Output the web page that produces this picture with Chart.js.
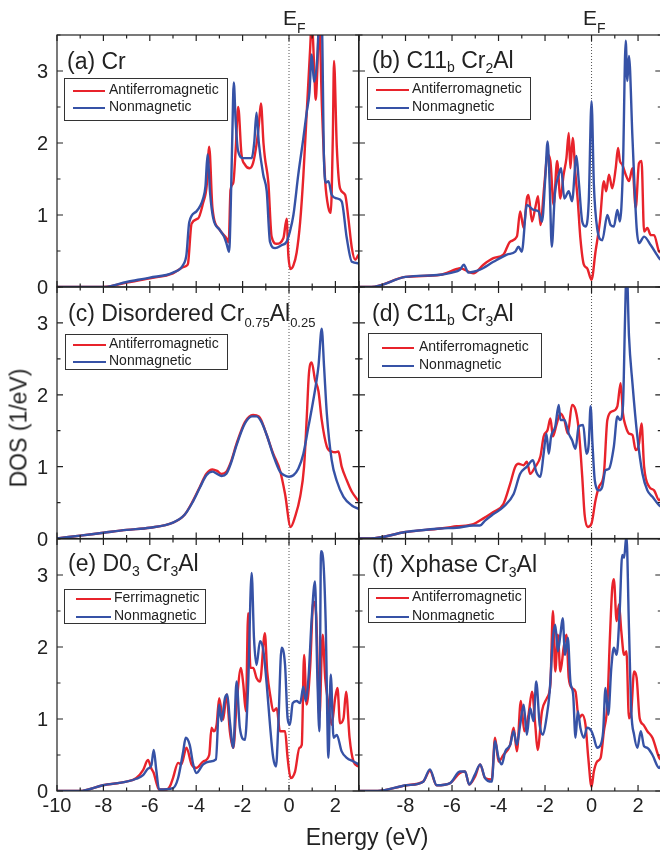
<!DOCTYPE html>
<html>
<head>
<meta charset="utf-8">
<script src="https://cdn.jsdelivr.net/npm/chart.js@4.4.0/dist/chart.umd.min.js"></script>
<style>
html, body { margin: 0; padding: 0; background: #fff; overflow: hidden; }
#wrap { position: relative; width: 660px; height: 851px; overflow: hidden;
  font-family: "Liberation Sans", Arial, sans-serif; color: #222; }
#wrap canvas { position: absolute; left: 0; top: 0; }
.txt { position: absolute; white-space: nowrap; line-height: 1; }
.sb { position: relative; }
.legend { position: absolute; box-sizing: border-box; border: 1px solid #333; background: #fff; }
.legend .ln { position: absolute; height: 2.6px; }
.legend .tx { position: absolute; font-size: 14px; line-height: 14px; white-space: nowrap; }
</style>
</head>
<body>
<div id="wrap"></div>
<script>
// ticks
const xTickValues = [-10, -9, -8, -7, -6, -5, -4, -3, -2, -1, 0, 1, 2, 3];
const xTickLabels = [-10, -8, -6, -4, -2, 0, 2];
const yTickValues = [0, 0.5, 1, 1.5, 2, 2.5, 3, 3.5];
const yTickLabels = [0, 1, 2, 3];

// (a) Cr
const crAfmE = [-10, -8, -7, -6, -5, -4.6, -4.4, -4.35, -4.2, -3.92, -3.7, -3.55, -3.44, -3.3, -3.0, -2.7, -2.6, -2.52, -2.4, -2.3, -2.19, -2.05, -1.9, -1.7, -1.55, -1.4, -1.3, -1.21, -1.1, -1.04, -0.89, -0.75, -0.53, -0.24, -0.1, -0.03, 0.07, 0.19, 0.33, 0.48, 0.62, 0.76, 0.91, 0.98, 1.08, 1.15, 1.22, 1.3, 1.42, 1.56, 1.7, 1.8, 1.89, 1.94, 2.06, 2.2, 2.42, 2.56, 2.71, 2.85, 3.0];
const crAfmDos = [0, 0, 0.06, 0.12, 0.19, 0.27, 0.3, 0.33, 0.88, 0.95, 1.17, 1.4, 1.95, 1.1, 0.8, 0.68, 0.62, 1.35, 1.45, 1.9, 2.5, 1.85, 1.7, 1.65, 1.72, 1.98, 2.25, 2.55, 2.0, 1.8, 1.45, 0.7, 0.6, 0.68, 0.95, 0.45, 0.25, 0.3, 0.48, 0.9, 1.55, 2.4, 3.3, 3.7, 3.1, 2.6, 3.0, 3.7, 2.5, 1.47, 1.1, 1.03, 2.1, 3.14, 1.95, 1.37, 1.28, 0.95, 0.54, 0.38, 0.45];
const crNmE = [-10, -8, -7, -6, -5, -4.56, -4.42, -4.3, -3.99, -3.7, -3.6, -3.51, -3.4, -3.27, -2.98, -2.8, -2.69, -2.58, -2.52, -2.45, -2.38, -2.3, -2.2, -1.97, -1.61, -1.5, -1.4, -1.3, -1.11, -0.96, -0.82, -0.6, -0.32, -0.1, 0.04, 0.19, 0.4, 0.62, 0.76, 0.88, 0.98, 1.08, 1.2, 1.31, 1.41, 1.51, 1.6, 1.7, 1.84, 2.06, 2.27, 2.49, 2.71, 3.0];
const crNmDos = [0, 0, 0.07, 0.13, 0.2, 0.31, 0.45, 0.9, 1.05, 1.23, 1.4, 1.84, 1.3, 0.96, 0.79, 0.7, 0.6, 0.49, 1.0, 2.0, 2.84, 2.3, 1.9, 1.79, 1.79, 2.0, 2.42, 2.0, 1.56, 1.33, 0.63, 0.54, 0.58, 0.63, 0.77, 1.0, 1.56, 2.07, 2.42, 2.7, 3.23, 2.85, 3.09, 3.7, 3.7, 1.74, 1.45, 1.47, 1.28, 1.23, 1.19, 0.68, 0.35, 0.33];

// (b) C11b Cr2Al
const c2AfmE = [-10, -9.47, -8.0, -6.5, -5.8, -5.66, -5.08, -4.65, -4.22, -3.79, -3.5, -3.21, -3.07, -2.92, -2.78, -2.71, -2.56, -2.42, -2.3, -2.2, -2.03, -1.89, -1.77, -1.63, -1.48, -1.34, -1.2, -1.08, -0.98, -0.91, -0.81, -0.69, -0.59, -0.48, -0.33, -0.19, 0, 0.17, 0.36, 0.53, 0.63, 0.75, 0.89, 1.04, 1.14, 1.22, 1.32, 1.47, 1.61, 1.76, 1.9, 2.04, 2.15, 2.26, 2.4, 2.55, 2.69, 2.91, 3.0];
const c2AfmDos = [0, 0, 0.14, 0.17, 0.25, 0.26, 0.19, 0.31, 0.4, 0.45, 0.63, 0.7, 1.05, 0.82, 1.23, 1.28, 0.91, 1.1, 1.26, 0.86, 1.42, 1.84, 1.75, 1.14, 1.75, 1.23, 1.56, 1.79, 2.14, 1.65, 2.07, 1.56, 1.19, 0.68, 0.31, 0.26, 0.1, 0.49, 0.91, 1.47, 1.33, 1.56, 1.37, 1.65, 1.93, 1.75, 1.7, 1.56, 1.47, 1.65, 1.1, 1.72, 1.75, 0.77, 0.82, 0.72, 0.72, 0.49, 0.48];
const c2NmE = [-10, -9.47, -8.0, -6.5, -6.0, -5.66, -5.49, -5.3, -4.8, -4.22, -3.64, -3.28, -3.14, -3.0, -2.78, -2.49, -2.28, -2.13, -1.99, -1.89, -1.8, -1.71, -1.58, -1.41, -1.31, -1.17, -0.98, -0.84, -0.65, -0.55, -0.4, -0.26, -0.12, 0, 0.1, 0.24, 0.46, 0.68, 0.82, 0.96, 1.11, 1.22, 1.35, 1.47, 1.54, 1.61, 1.76, 1.94, 2.04, 2.26, 2.55, 2.91, 3.0];
const c2NmDos = [0, 0, 0.14, 0.17, 0.2, 0.24, 0.31, 0.2, 0.24, 0.35, 0.45, 0.49, 0.56, 0.49, 1.14, 1.07, 1.05, 0.91, 1.51, 2.02, 1.42, 0.56, 1.28, 1.56, 1.65, 1.23, 1.33, 1.19, 1.82, 1.47, 0.91, 0.84, 1.19, 2.58, 1.42, 0.82, 0.65, 1.0, 0.86, 0.84, 1.07, 0.91, 1.65, 3.42, 2.86, 3.21, 2.07, 0.82, 0.61, 0.7, 0.58, 0.4, 0.37];

// (c) disordered Cr0.75Al0.25
const disAfmE = [-10, -9, -8, -7, -6, -5, -4.5, -4.13, -3.84, -3.56, -3.3, -3.1, -2.91, -2.7, -2.5, -2.26, -1.9, -1.55, -1.3, -1.2, -0.96, -0.68, -0.39, -0.17, 0.07, 0.26, 0.48, 0.65, 0.76, 0.86, 0.98, 1.12, 1.27, 1.41, 1.63, 1.84, 2.0, 2.13, 2.27, 2.49, 2.71, 3.0];
const disAfmDos = [0, 0.04, 0.08, 0.12, 0.15, 0.22, 0.33, 0.53, 0.72, 0.9, 0.96, 0.94, 0.9, 0.93, 1.07, 1.32, 1.62, 1.72, 1.7, 1.65, 1.44, 1.18, 0.95, 0.62, 0.16, 0.3, 0.58, 1.0, 1.65, 2.3, 2.45, 2.21, 2.05, 1.65, 1.28, 1.21, 1.2, 1.21, 1.0, 0.81, 0.65, 0.52];
const disNmE = [-10, -9, -8, -7, -6, -5, -4.5, -4.13, -3.84, -3.56, -3.3, -3.1, -2.91, -2.7, -2.5, -2.26, -1.9, -1.6, -1.4, -1.2, -0.96, -0.68, -0.39, -0.2, 0, 0.19, 0.4, 0.62, 0.84, 1.05, 1.27, 1.41, 1.51, 1.63, 1.84, 2.06, 2.35, 2.71, 3.0];
const disNmDos = [0, 0.04, 0.08, 0.12, 0.15, 0.22, 0.33, 0.52, 0.71, 0.88, 0.93, 0.9, 0.87, 0.9, 1.05, 1.3, 1.6, 1.7, 1.7, 1.63, 1.44, 1.16, 0.93, 0.88, 0.86, 0.88, 0.97, 1.18, 1.56, 1.93, 2.4, 2.92, 2.4, 1.74, 1.09, 0.8, 0.58, 0.46, 0.41];

// (d) C11b Cr3Al
const c3AfmE = [-10, -9.5, -8, -6.5, -5.8, -5.08, -4.65, -4.22, -3.79, -3.5, -3.28, -3.14, -2.92, -2.78, -2.64, -2.42, -2.2, -2.06, -1.89, -1.77, -1.66, -1.51, -1.34, -1.17, -1.02, -0.84, -0.69, -0.55, -0.4, -0.3, -0.16, 0, 0.17, 0.32, 0.53, 0.68, 0.89, 1.11, 1.25, 1.35, 1.47, 1.61, 1.76, 1.9, 2.04, 2.15, 2.26, 2.48, 2.69, 2.91, 3.0];
const c3AfmDos = [0, 0, 0.09, 0.14, 0.17, 0.2, 0.28, 0.37, 0.48, 0.76, 1.0, 1.04, 1.02, 1.07, 0.9, 1.0, 1.14, 1.42, 1.51, 1.67, 1.42, 1.58, 1.74, 1.65, 1.46, 1.86, 1.79, 1.51, 0.86, 0.34, 0.16, 0.21, 0.53, 0.72, 0.9, 1.65, 1.77, 1.84, 2.16, 1.74, 1.56, 1.46, 1.44, 1.23, 1.32, 1.6, 1.0, 0.72, 0.67, 0.53, 0.57];
const c3NmE = [-10, -9.5, -8, -6.5, -5.8, -5.08, -4.8, -4.58, -4.22, -3.79, -3.35, -3.07, -2.78, -2.52, -2.38, -2.2, -2.06, -1.94, -1.84, -1.74, -1.56, -1.41, -1.34, -1.17, -0.98, -0.84, -0.69, -0.55, -0.36, -0.22, -0.12, -0.04, 0.04, 0.14, 0.32, 0.46, 0.6, 0.75, 0.96, 1.11, 1.22, 1.35, 1.44, 1.51, 1.61, 1.76, 1.97, 2.19, 2.4, 2.62, 2.91, 3.0];
const c3NmDos = [0, 0, 0.09, 0.14, 0.15, 0.18, 0.18, 0.25, 0.34, 0.44, 0.62, 0.9, 1.0, 1.09, 0.93, 0.86, 1.18, 1.46, 1.18, 1.42, 1.56, 1.86, 1.65, 1.65, 1.46, 1.37, 1.25, 1.56, 1.58, 1.18, 1.32, 1.84, 1.32, 0.81, 0.67, 0.72, 0.95, 0.97, 1.28, 1.7, 1.65, 1.84, 3.05, 3.8, 2.82, 2.16, 1.42, 0.9, 0.67, 0.58, 0.46, 0.44];

// (e) D0_3 Cr3Al
const d03FimE = [-10, -9.03, -8.02, -7.01, -6.58, -6.29, -6.08, -5.93, -5.83, -5.72, -5.6, -5.28, -5.14, -5.0, -4.78, -4.64, -4.42, -4.2, -3.99, -3.7, -3.44, -3.34, -3.24, -3.12, -3.01, -2.84, -2.69, -2.55, -2.4, -2.26, -2.07, -1.97, -1.86, -1.76, -1.66, -1.54, -1.4, -1.25, -1.04, -0.94, -0.79, -0.68, -0.53, -0.39, -0.17, -0.06, 0.07, 0.26, 0.45, 0.55, 0.65, 0.76, 0.91, 1.05, 1.17, 1.31, 1.45, 1.56, 1.7, 1.84, 1.99, 2.09, 2.2, 2.35, 2.46, 2.61, 2.78, 3.0];
const d03FimDos = [0, 0, 0.08, 0.13, 0.18, 0.29, 0.43, 0.31, 0.25, 0.12, 0.02, 0.02, 0.06, 0.18, 0.39, 0.37, 0.6, 0.37, 0.32, 0.41, 0.5, 0.88, 0.83, 0.92, 1.29, 0.99, 1.34, 0.83, 0.6, 1.2, 1.71, 1.48, 1.11, 2.47, 1.71, 1.71, 1.57, 1.52, 2.19, 1.66, 1.29, 1.11, 1.15, 0.83, 0.83, 0.46, 0.18, 0.27, 0.6, 0.64, 1.89, 1.2, 1.71, 2.63, 2.45, 1.01, 2.17, 1.57, 1.2, 0.92, 1.29, 1.43, 0.94, 1.01, 1.38, 0.74, 0.41, 0.34];
const d03NmE = [-10, -9.03, -8.02, -7.01, -6.58, -6.29, -6.08, -5.93, -5.83, -5.72, -5.6, -5.0, -4.78, -4.56, -4.45, -4.28, -4.13, -3.99, -3.7, -3.41, -3.15, -3.01, -2.91, -2.76, -2.66, -2.55, -2.4, -2.26, -2.12, -1.9, -1.76, -1.61, -1.51, -1.4, -1.25, -1.11, -0.96, -0.82, -0.68, -0.56, -0.46, -0.32, -0.17, -0.06, 0.04, 0.16, 0.33, 0.48, 0.62, 0.72, 0.84, 0.98, 1.12, 1.22, 1.31, 1.38, 1.48, 1.58, 1.7, 1.8, 1.92, 2.06, 2.27, 2.49, 2.78, 3.0];
const d03NmDos = [0, 0, 0.08, 0.13, 0.17, 0.22, 0.31, 0.36, 0.57, 0.29, 0.02, 0.04, 0.18, 0.55, 0.74, 0.64, 0.37, 0.25, 0.37, 0.41, 0.44, 1.2, 0.97, 1.29, 1.34, 0.97, 0.6, 1.52, 0.88, 0.71, 1.48, 3.03, 2.13, 1.75, 2.08, 1.96, 1.48, 0.92, 0.46, 0.34, 0.92, 1.99, 1.75, 1.01, 0.92, 1.22, 1.25, 1.22, 1.45, 1.25, 1.57, 2.4, 2.91, 1.62, 0.83, 3.33, 3.19, 2.36, 0.46, 1.62, 0.74, 0.78, 0.55, 0.46, 0.41, 0.37];

// (f) X phase Cr3Al
const xAfmE = [-10, -9.2, -7.96, -7.24, -6.95, -6.66, -6.08, -5.66, -5.44, -5.26, -5.01, -4.79, -4.58, -4.29, -4.15, -4.0, -3.79, -3.5, -3.35, -3.21, -3.04, -2.89, -2.71, -2.56, -2.42, -2.32, -2.13, -1.92, -1.77, -1.66, -1.56, -1.45, -1.34, -1.2, -1.08, -0.98, -0.84, -0.69, -0.55, -0.4, -0.26, -0.14, 0, 0.1, 0.24, 0.39, 0.53, 0.68, 0.79, 0.89, 0.96, 1.08, 1.18, 1.28, 1.4, 1.5, 1.61, 1.71, 1.83, 1.94, 2.07, 2.23, 2.4, 2.62, 2.91, 3.0];
const xAfmDos = [0, 0, 0.08, 0.13, 0.28, 0.08, 0.11, 0.25, 0.27, 0.09, 0.2, 0.37, 0.18, 0.16, 0.74, 0.41, 0.5, 0.64, 0.88, 0.55, 1.25, 0.83, 1.06, 1.38, 0.92, 0.57, 1.11, 1.29, 1.48, 2.5, 1.66, 2.17, 1.66, 1.99, 2.17, 1.57, 1.43, 1.38, 1.01, 1.06, 0.92, 0.46, 0.06, 0.27, 0.41, 0.46, 0.83, 1.2, 2.13, 2.82, 2.94, 2.36, 2.59, 2.22, 1.89, 1.94, 1.01, 1.11, 1.66, 1.57, 1.01, 0.92, 0.83, 0.74, 0.46, 0.43];
const xNmE = [-10, -9.2, -7.96, -7.24, -6.95, -6.66, -6.08, -5.66, -5.44, -5.26, -5.01, -4.79, -4.58, -4.29, -4.15, -4.0, -3.86, -3.71, -3.5, -3.35, -3.21, -3.07, -2.92, -2.78, -2.64, -2.49, -2.38, -2.23, -2.09, -1.94, -1.8, -1.66, -1.56, -1.45, -1.34, -1.24, -1.14, -1.02, -0.91, -0.79, -0.69, -0.59, -0.48, -0.33, -0.19, 0, 0.1, 0.24, 0.39, 0.5, 0.6, 0.72, 0.85, 0.96, 1.08, 1.21, 1.32, 1.4, 1.5, 1.61, 1.71, 1.83, 1.97, 2.12, 2.26, 2.4, 2.62, 2.91, 3.0];
const xNmDos = [0, 0, 0.08, 0.13, 0.3, 0.08, 0.11, 0.27, 0.27, 0.09, 0.23, 0.37, 0.18, 0.13, 0.69, 0.46, 0.37, 0.55, 0.64, 0.83, 0.64, 0.92, 1.2, 0.78, 1.15, 0.97, 1.52, 0.92, 0.78, 1.01, 1.38, 2.13, 2.31, 1.94, 2.17, 2.4, 1.89, 2.13, 1.52, 1.34, 0.74, 1.11, 0.88, 0.74, 0.88, 0.83, 0.74, 0.6, 0.64, 0.83, 1.43, 1.06, 1.71, 1.99, 1.89, 2.5, 3.28, 3.24, 3.55, 2.26, 1.11, 0.78, 0.6, 0.83, 0.62, 0.6, 0.5, 0.32, 0.36];

const RED = '#e8232b';
const BLUE = '#3652a6';
const W = 662, H = 851;

const panels = [
  { rect: [57, 35, 358.6, 287], title: '(a) Cr', yLab: true, xLab: false,
    series: [[crAfmE, crAfmDos, 'Antiferromagnetic'], [crNmE, crNmDos, 'Nonmagnetic']],
    tpos: [67, 69], lg: [64, 78, 164, 43, 12, 29, 8, 40, 44] },
  { rect: [359, 35, 661.3, 287], title: '(b) C11<span class="sb" style="font-size:14px;top:4px">b</span> Cr<span class="sb" style="font-size:14px;top:5px">2</span>Al', yLab: false, xLab: false,
    series: [[c2AfmE, c2AfmDos, 'Antiferromagnetic'], [c2NmE, c2NmDos, 'Nonmagnetic']],
    tpos: [372, 68], lg: [367, 77, 164, 43, 12, 30, 8, 41, 44] },
  { rect: [57, 287, 358.6, 538.5], title: '(c) Disordered Cr<span class="sb" style="font-size:13px;top:6px">0.75</span>Al<span class="sb" style="font-size:13px;top:6px">0.25</span>', yLab: true, xLab: false,
    series: [[disAfmE, disAfmDos, 'Antiferromagnetic'], [disNmE, disNmDos, 'Nonmagnetic']],
    tpos: [68, 321.7], lg: [65, 334, 163, 36, 10, 27, 7, 40, 43] },
  { rect: [359, 287, 661.3, 538.5], title: '(d) C11<span class="sb" style="font-size:14px;top:4px">b</span> Cr<span class="sb" style="font-size:14px;top:5px">3</span>Al', yLab: false, xLab: false,
    series: [[c3AfmE, c3AfmDos, 'Antiferromagnetic'], [c3NmE, c3NmDos, 'Nonmagnetic']],
    tpos: [372, 321], lg: [368, 333, 174, 45, 14, 32, 13, 45, 50] },
  { rect: [57, 539, 358.6, 791], title: '(e) D0<span class="sb" style="font-size:14px;top:5px">3</span> Cr<span class="sb" style="font-size:14px;top:5px">3</span>Al', yLab: true, xLab: true, skipFirst: false,
    series: [[d03FimE, d03FimDos, 'Ferrimagnetic'], [d03NmE, d03NmDos, 'Nonmagnetic']],
    tpos: [68, 571], lg: [64, 589, 142, 35, 9, 27, 11, 46, 49] },
  { rect: [359, 539, 661.3, 791], title: '(f) Xphase Cr<span class="sb" style="font-size:14px;top:5px">3</span>Al', yLab: false, xLab: true, skipFirst: true,
    series: [[xAfmE, xAfmDos, 'Antiferromagnetic'], [xNmE, xNmDos, 'Nonmagnetic']],
    tpos: [372, 572], lg: [368, 588, 158, 35, 9, 28, 7, 40, 43] }
];

const wrap = document.getElementById('wrap');

function addText(html, x, baseline, size, extra) {
  const d = document.createElement('div');
  d.className = 'txt';
  d.style.fontSize = size + 'px';
  d.style.left = x + 'px';
  d.style.top = (baseline - 0.8465 * size) + 'px';
  if (extra) Object.assign(d.style, extra);
  d.innerHTML = html;
  wrap.appendChild(d);
  return d;
}

const framePlugin = {
  id: 'frame',
  beforeDatasetsDraw(chart) {
    const { ctx, chartArea: a, scales: { x } } = chart;
    const xe = x.getPixelForValue(0);
    ctx.save();
    ctx.strokeStyle = '#555';
    ctx.lineWidth = 1;
    ctx.setLineDash([1, 2]);
    ctx.beginPath();
    ctx.moveTo(xe, a.top);
    ctx.lineTo(xe, a.bottom);
    ctx.stroke();
    ctx.restore();
  },
  afterDatasetsDraw(chart, args, opts) {
    const { ctx, chartArea: a, scales: { x, y } } = chart;
    ctx.save();
    ctx.strokeStyle = '#222';
    ctx.lineWidth = 1.2;
    ctx.strokeRect(a.left, a.top, a.right - a.left, a.bottom - a.top);
    ctx.beginPath();
    xTickValues.forEach(v => {
      const px = x.getPixelForValue(v);
      const len = v % 2 === 0 ? 6 : 3.5;
      ctx.moveTo(px, a.bottom); ctx.lineTo(px, a.bottom - len);
      ctx.moveTo(px, a.top); ctx.lineTo(px, a.top + len);
    });
    yTickValues.forEach(v => {
      const py = y.getPixelForValue(v);
      const len = v % 1 === 0 ? 6 : 3.5;
      ctx.moveTo(a.left, py); ctx.lineTo(a.left + len, py);
      ctx.moveTo(a.right, py); ctx.lineTo(a.right - len, py);
    });
    ctx.stroke();
    ctx.fillStyle = '#222';
    ctx.font = '20px "Liberation Sans", Arial, sans-serif';
    if (opts.yLab) {
      ctx.textAlign = 'right';
      yTickLabels.forEach(v => ctx.fillText(String(v), a.left - 9, y.getPixelForValue(v) + 7));
    }
    if (opts.xLab) {
      ctx.textAlign = 'center';
      xTickLabels.forEach((v, i) => {
        if (opts.skipFirst && i === 0) return;
        ctx.fillText(String(v), x.getPixelForValue(v), a.bottom + 21);
      });
    }
    ctx.restore();
  }
};

panels.forEach(p => {
  const cv = document.createElement('canvas');
  cv.width = W; cv.height = H;
  cv.style.width = W + 'px'; cv.style.height = H + 'px';
  wrap.appendChild(cv);
  const [x0, y0, x1, y1] = p.rect;
  const colors = [RED, BLUE];
  new Chart(cv, {
    type: 'scatter',
    data: {
      datasets: p.series.map((s, i) => ({
        label: s[2],
        data: s[0].map((e, k) => ({ x: e, y: s[1][k] })),
        showLine: true,
        borderColor: colors[i],
        backgroundColor: colors[i],
        borderWidth: 2.4,
        pointRadius: 0,
        cubicInterpolationMode: 'monotone',
        order: i === 0 ? 2 : 1
      }))
    },
    options: {
      responsive: false,
      animation: false,
      events: [],
      layout: { padding: { left: x0, top: y0, right: W - x1, bottom: H - y1 } },
      scales: {
        x: { type: 'linear', min: -10, max: 3, display: false },
        y: { type: 'linear', min: 0, max: 3.5, display: false }
      },
      plugins: {
        legend: { display: false },
        tooltip: { enabled: false },
        frame: { yLab: p.yLab, xLab: p.xLab, skipFirst: p.skipFirst }
      }
    },
    plugins: [framePlugin]
  });

  addText(p.title, p.tpos[0], p.tpos[1], 23);

  const [bx, by, bw, bh, r1, r2, lx0, lx1, tx] = p.lg;
  const box = document.createElement('div');
  box.className = 'legend';
  Object.assign(box.style, { left: bx + 'px', top: by + 'px', width: bw + 'px', height: bh + 'px' });
  [r1, r2].forEach((ry, i) => {
    const ln = document.createElement('div');
    ln.className = 'ln';
    Object.assign(ln.style, { left: lx0 + 'px', width: (lx1 - lx0) + 'px', top: (ry - 1.3) + 'px', background: colors[i] });
    box.appendChild(ln);
    const t = document.createElement('div');
    t.className = 'tx';
    t.textContent = p.series[i][2];
    Object.assign(t.style, { left: tx + 'px', top: (ry + 3.2 - 11.85) + 'px' });
    box.appendChild(t);
  });
  wrap.appendChild(box);
});

// E_F labels and axis titles
addText('E<span class="sb" style="font-size:14px;top:8px">F</span>', 283, 25, 21);
addText('E<span class="sb" style="font-size:14px;top:8px">F</span>', 583, 25, 21);
addText('Energy (eV)', 367, 845, 23, { transform: 'translateX(-50%)' });
const dosLab = addText('DOS (1/eV)', 19, 428, 23, {});
dosLab.style.top = '428px';
dosLab.style.transform = 'translate(-50%, -50%) rotate(-90deg)';
</script>
</body>
</html>
